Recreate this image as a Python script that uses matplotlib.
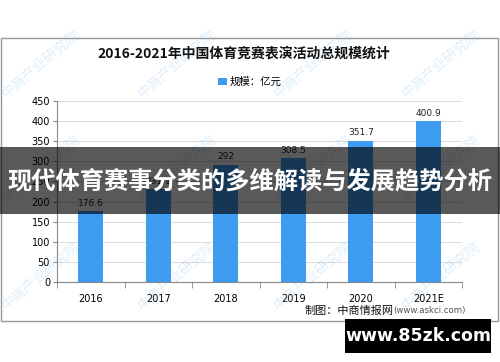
import matplotlib
matplotlib.use("Agg")
import matplotlib.pyplot as plt
from matplotlib.patches import Rectangle

plt.rcParams['font.family'] = ['Noto Sans CJK SC', 'DejaVu Sans']

years = ["2016", "2017", "2018", "2019", "2020", "2021E"]
values = [176.6, 231.1, 292.0, 308.5, 351.7, 400.9]
labels = ["176.6", "231.1", "292", "308.5", "351.7", "400.9"]
yticks = [0, 50, 100, 150, 200, 250, 300, 350, 400, 450]

title = "2016-2021年中国体育竞赛表演活动总规模统计"
legend_label = "规模：亿元"
banner = "现代体育赛事分类的多维解读与发展趋势分析"
bar_color = "#3d9cf0"

fig = plt.figure(figsize=(5, 3.62), dpi=100)
fig.patch.set_facecolor("white")

# chart frame
fig.add_artist(Rectangle((0.002, 1 - 321 / 362), 0.994, (321 - 38) / 362,
                         transform=fig.transFigure, fill=False,
                         edgecolor="#999999", lw=1.0))

ax = fig.add_axes([57 / 500, 1 - 282 / 362, (462 - 57) / 500, (282 - 101) / 362])
ax.set_facecolor("none")
x = range(len(years))
bars = ax.bar(x, values, width=0.37, color=bar_color, zorder=3, label=legend_label)
for xi, v, lab in zip(x, values, labels):
    ax.text(xi, v + 8, lab, ha="center", va="bottom", fontsize=6.5,
            family="DejaVu Sans", color="#222222", zorder=4)

ax.set_ylim(0, 450)
ax.set_xlim(-0.5, len(years) - 0.5)
ax.set_yticks(yticks)
ax.set_yticklabels([str(t) for t in yticks], fontsize=7, family="DejaVu Sans")
ax.set_xticks(list(x))
ax.set_xticklabels(years, fontsize=7, family="DejaVu Sans")
ax.tick_params(axis="x", length=0, pad=9)
ax.tick_params(axis="y", length=3, color="#888888", pad=2)
ax.set_xticks([i - 0.5 for i in range(len(years) + 1)], minor=True)
ax.tick_params(axis="x", which="minor", length=4, color="#888888")
ax.yaxis.grid(True, color="#dddddd", lw=0.8, zorder=0)
for s in ["top", "right"]:
    ax.spines[s].set_visible(False)
for s in ["left", "bottom"]:
    ax.spines[s].set_color("#888888")

# faint watermarks (drawn semi-transparent above the plot, like the reference)
for xx in [8, 144, 280, 408]:
    for yy in [100, 205, 312]:
        fig.text(xx / 500, 1 - yy / 362, "中商产业研究院", rotation=40,
                 color="#5aa8e6", alpha=0.2, fontsize=10, ha="left",
                 va="bottom", rotation_mode="anchor", zorder=5)

fig.text(244 / 500, 1 - 54 / 362, title, ha="center", va="center",
         fontsize=10, fontweight="bold", color="#111111")
leg = fig.legend(handles=[bars], labels=[legend_label], loc="center",
                 bbox_to_anchor=(250 / 500, 1 - 82 / 362), frameon=False,
                 fontsize=7.5, handlelength=0.8, handleheight=0.8,
                 handletextpad=0.3)

fig.text(305 / 500, 1 - 311 / 362, "制图：中商情报网", ha="left", va="center",
         fontsize=8, color="#111111")
fig.text(393 / 500, 1 - 311 / 362, "(www.askci.com)", ha="left", va="center",
         fontsize=6.2, color="#555555", family="DejaVu Sans")

# banner overlay
fig.add_artist(Rectangle((0, 1 - 214 / 362), 1, (214 - 147) / 362,
                         transform=fig.transFigure, facecolor="black",
                         alpha=0.65, edgecolor="none", zorder=10))
fig.text(0.5, 1 - 181 / 362, banner, ha="center", va="center",
         fontsize=17.5, fontweight="bold", color="white", zorder=11)

# site watermark box
fig.add_artist(Rectangle((345 / 500, 1 - 353 / 362), (491 - 345) / 500, (353 - 319) / 362,
                         transform=fig.transFigure, facecolor="black",
                         edgecolor="none", zorder=10))
fig.text(418 / 500, 1 - 336 / 362, "www.85zk.com", ha="center", va="center",
         fontsize=12.5, fontweight="bold", color="white", zorder=11,
         family="DejaVu Sans")

fig.savefig("out.png", dpi=100)
